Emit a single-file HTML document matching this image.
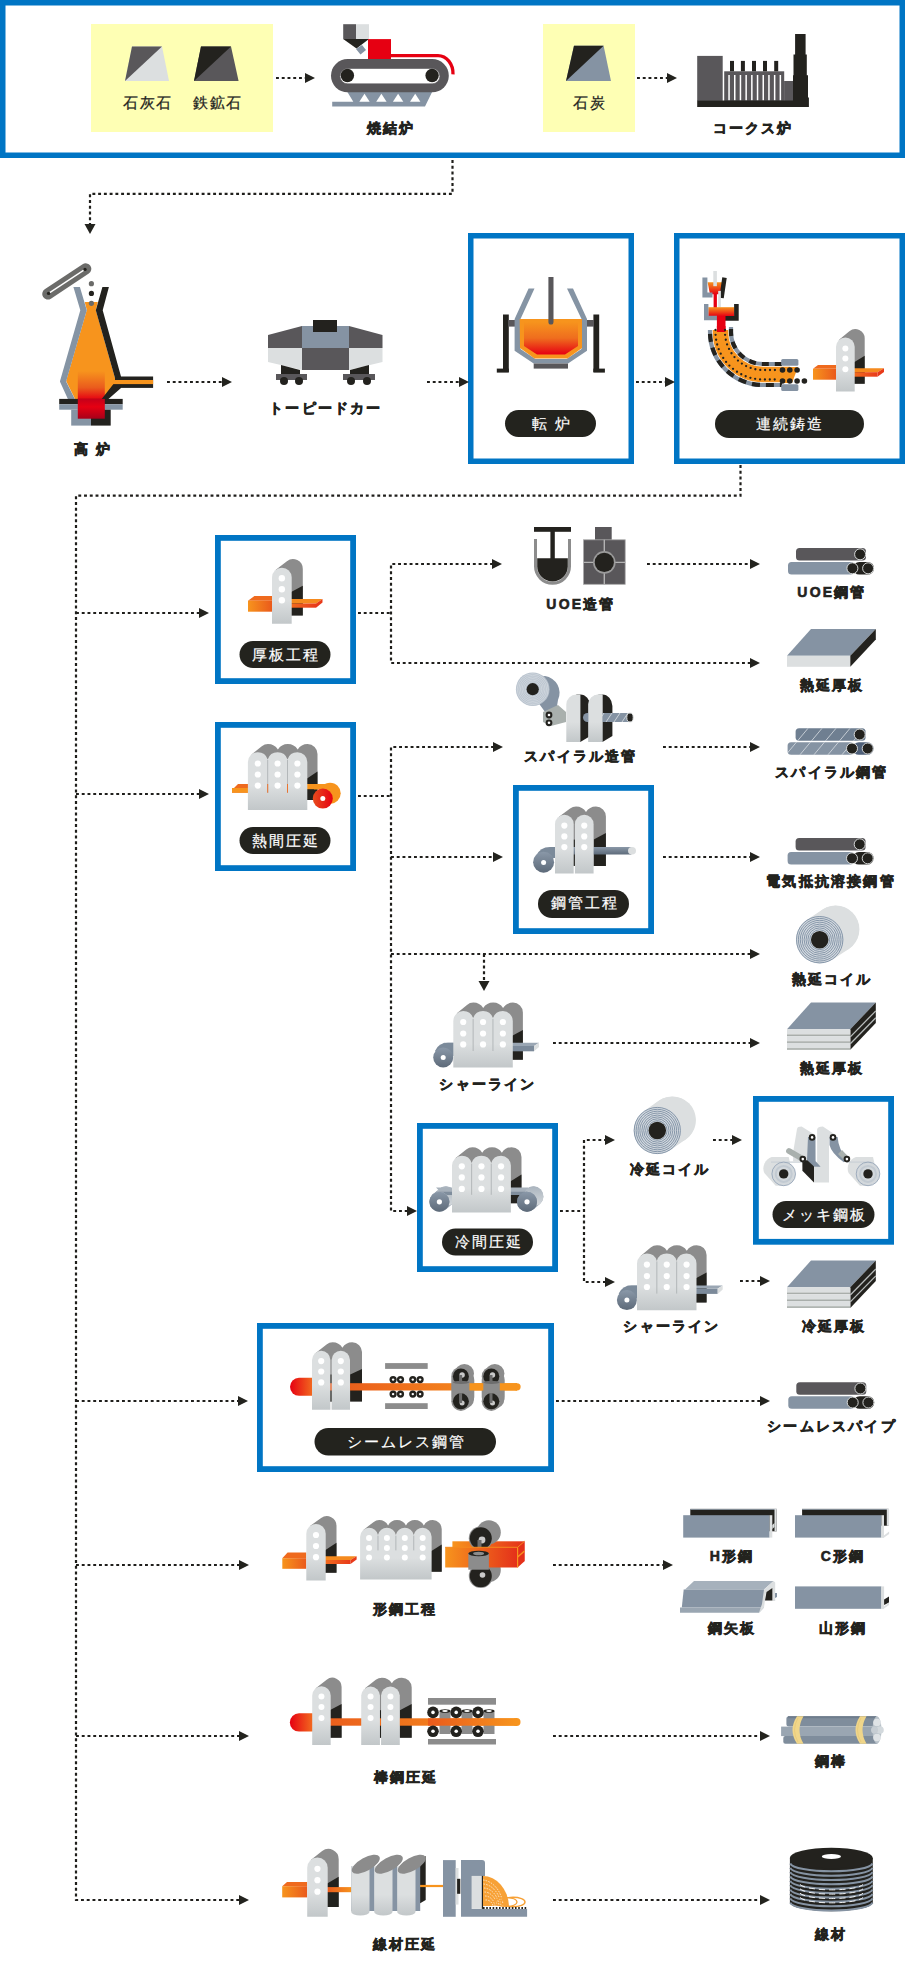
<!DOCTYPE html>
<html lang="ja">
<head>
<meta charset="utf-8">
<title>製鉄プロセス</title>
<style>
html,body{margin:0;padding:0;background:#fff;}
body{width:905px;height:1969px;overflow:hidden;position:relative;font-family:"Liberation Sans",sans-serif;}
svg{position:absolute;left:0;top:0;display:block;}
.lb{font-family:"Liberation Sans",sans-serif;font-size:14px;font-weight:bold;fill:#23231e;letter-spacing:2.2px;stroke:#23231e;stroke-width:0.6px;}
.lr{font-family:"Liberation Sans",sans-serif;font-size:14.5px;font-weight:normal;fill:#23231e;letter-spacing:1.8px;stroke:#23231e;stroke-width:0.25px;}
.pt{font-family:"Liberation Sans",sans-serif;font-size:15px;font-weight:normal;fill:#fff;letter-spacing:2px;stroke:#fff;stroke-width:0.2px;}
.dl{fill:none;stroke:#1f1e1b;stroke-width:2.2;stroke-dasharray:2.9 2.85;}
.bx{fill:none;stroke:#0075c4;stroke-width:5;}
</style>
</head>
<body>
<svg width="905" height="1969" viewBox="0 0 905 1969">
<defs>
  <polygon id="ar" points="0,-5 10,0 0,5" fill="#23231e"/>
  <polygon id="ad" points="-5.5,0 5.5,0 0,10" fill="#23231e"/>
</defs>

<!-- ===== blue boxes ===== -->
<rect x="2.75" y="2.75" width="899.50" height="152.50" fill="none" stroke="#0075c4" stroke-width="5.5"/>
<rect x="470.75" y="235.75" width="160.50" height="225.50" fill="none" stroke="#0075c4" stroke-width="5.5"/>
<rect x="676.75" y="235.75" width="225.50" height="225.50" fill="none" stroke="#0075c4" stroke-width="5.5"/>
<rect x="217.90" y="537.90" width="135.20" height="143.20" fill="none" stroke="#0075c4" stroke-width="5.8"/>
<rect x="217.90" y="724.90" width="135.20" height="143.20" fill="none" stroke="#0075c4" stroke-width="5.8"/>
<rect x="515.90" y="787.90" width="135.20" height="143.20" fill="none" stroke="#0075c4" stroke-width="5.8"/>
<rect x="419.90" y="1125.90" width="135.20" height="143.20" fill="none" stroke="#0075c4" stroke-width="5.8"/>
<rect x="755.90" y="1098.90" width="135.20" height="142.90" fill="none" stroke="#0075c4" stroke-width="5.8"/>
<rect x="259.90" y="1325.90" width="291.20" height="143.20" fill="none" stroke="#0075c4" stroke-width="5.8"/>

<!-- yellow raw material panels -->
<rect x="91" y="24" width="182" height="108" fill="#feffb4"/>
<rect x="543" y="24" width="92" height="108" fill="#feffb4"/>

<!-- ===== dotted connectors ===== -->
<g id="connectors">
<path class="dl" d="M276,78H306"/><use href="#ar" x="305" y="78"/>
<path class="dl" d="M637,78H668"/><use href="#ar" x="667" y="78"/>
<path class="dl" d="M452.5,160V193.8H90V224"/><use href="#ad" x="90" y="224"/>
<path class="dl" d="M167,382H224"/><use href="#ar" x="222" y="382"/>
<path class="dl" d="M427,382H460"/><use href="#ar" x="459" y="382"/>
<path class="dl" d="M636,382H666"/><use href="#ar" x="665" y="382"/>
<path class="dl" d="M740.5,465V495.7H76V1900H240"/>
<path class="dl" d="M76,613H200"/><use href="#ar" x="199" y="613"/>
<path class="dl" d="M76,794H200"/><use href="#ar" x="199" y="794"/>
<path class="dl" d="M76,1401H240"/><use href="#ar" x="238" y="1401"/>
<path class="dl" d="M76,1565H240"/><use href="#ar" x="239" y="1565"/>
<path class="dl" d="M76,1736H240"/><use href="#ar" x="239" y="1736"/>
<use href="#ar" x="239" y="1900"/>
<!-- plate branch -->
<path class="dl" d="M358,613H391"/>
<path class="dl" d="M493,564H391V663H752"/><use href="#ar" x="492" y="564"/><use href="#ar" x="750" y="663"/>
<path class="dl" d="M647,564H752"/><use href="#ar" x="750" y="564"/>
<!-- hot rolling branch -->
<path class="dl" d="M358,796H391"/>
<path class="dl" d="M494,747H391V1211H409"/><use href="#ar" x="493" y="747"/><use href="#ar" x="407" y="1211"/>
<path class="dl" d="M391,857H494"/><use href="#ar" x="493" y="857"/>
<path class="dl" d="M391,954H752"/><use href="#ar" x="750" y="954"/>
<path class="dl" d="M484,954V983"/><use href="#ad" x="484" y="981"/>
<path class="dl" d="M663,747H752"/><use href="#ar" x="750" y="747"/>
<path class="dl" d="M663,857H752"/><use href="#ar" x="750" y="857"/>
<path class="dl" d="M553,1043H752"/><use href="#ar" x="750" y="1043"/>
<!-- cold rolling branch -->
<path class="dl" d="M560,1211H584"/>
<path class="dl" d="M607,1140H584V1282H607"/><use href="#ar" x="605" y="1140"/><use href="#ar" x="605" y="1282"/>
<path class="dl" d="M713,1140H734"/><use href="#ar" x="732" y="1140"/>
<path class="dl" d="M740,1281H762"/><use href="#ar" x="760" y="1281"/>
<!-- bottom processes -->
<path class="dl" d="M556,1401H762"/><use href="#ar" x="760" y="1401"/>
<path class="dl" d="M553,1565H665"/><use href="#ar" x="663" y="1565"/>
<path class="dl" d="M553,1736H762"/><use href="#ar" x="760" y="1736"/>
<path class="dl" d="M553,1900H762"/><use href="#ar" x="760" y="1900"/>
</g>

<!-- ===== pills ===== -->
<g fill="#23231e">
<rect x="505" y="410" width="91" height="27" rx="13.5"/>
<rect x="715" y="410" width="149" height="28" rx="14"/>
<rect x="239.5" y="641" width="91" height="27" rx="13.5"/>
<rect x="239.5" y="827" width="91" height="27" rx="13.5"/>
<rect x="538" y="890" width="91" height="28" rx="14"/>
<rect x="442" y="1228.5" width="91" height="27" rx="13.5"/>
<rect x="772.5" y="1201" width="102" height="27" rx="13.5"/>
<rect x="314.5" y="1428" width="181.5" height="27.5" rx="13.75"/>
</g>
<g text-anchor="middle" transform="translate(1,-0.5)">
<text class="pt" x="551" y="429">転 炉</text>
<text class="pt" x="789" y="429.5">連続鋳造</text>
<text class="pt" x="285" y="660">厚板工程</text>
<text class="pt" x="285" y="846">熱間圧延</text>
<text class="pt" x="583.5" y="908">鋼管工程</text>
<text class="pt" x="487.5" y="1247.6">冷間圧延</text>
<text class="pt" x="823.5" y="1220">メッキ鋼板</text>
<text class="pt" x="405" y="1447">シームレス鋼管</text>
</g>

<!-- ===== labels ===== -->
<g text-anchor="middle" transform="translate(1,0)">
<text class="lr" x="147" y="108">石灰石</text>
<text class="lr" x="217" y="108">鉄鉱石</text>
<text class="lr" x="589" y="108">石炭</text>
<text class="lb" x="390" y="133">焼結炉</text>
<text class="lb" x="752" y="133">コークス炉</text>
<text class="lb" x="92" y="454">高 炉</text>
<text class="lb" x="325" y="413">トーピードカー</text>
<text class="lb" x="580" y="609">UOE造管</text>
<text class="lb" x="831" y="597">UOE鋼管</text>
<text class="lb" x="831" y="690">熱延厚板</text>
<text class="lb" x="580" y="761">スパイラル造管</text>
<text class="lb" x="831" y="777">スパイラル鋼管</text>
<text class="lb" x="830" y="886">電気抵抗溶接鋼管</text>
<text class="lb" x="831" y="984">熱延コイル</text>
<text class="lb" x="487" y="1089">シャーライン</text>
<text class="lb" x="831" y="1073">熱延厚板</text>
<text class="lb" x="669" y="1174">冷延コイル</text>
<text class="lb" x="671" y="1331">シャーライン</text>
<text class="lb" x="833" y="1331">冷延厚板</text>
<text class="lb" x="831" y="1431">シームレスパイプ</text>
<text class="lb" x="404" y="1614">形鋼工程</text>
<text class="lb" x="731" y="1561">H形鋼</text>
<text class="lb" x="842" y="1561">C形鋼</text>
<text class="lb" x="731" y="1633">鋼矢板</text>
<text class="lb" x="842" y="1633">山形鋼</text>
<text class="lb" x="405" y="1782">棒鋼圧延</text>
<text class="lb" x="830" y="1766">鋼棒</text>
<text class="lb" x="404" y="1949">線材圧延</text>
<text class="lb" x="830" y="1939">線材</text>
</g>


<!-- ===== ICONS: top row ===== -->
<g id="raw">
  <polygon points="132,46.5 162,46.5 169,81 125,81" fill="#dcdfe0"/>
  <polygon points="132,46.5 162,46.5 125,81" fill="#59575a"/>
  <polygon points="201,46.5 231,46.5 238.6,81 194,81" fill="#59575a"/>
  <polygon points="201,46.5 231,46.5 194,81" fill="#23221e"/>
  <polygon points="574,45.8 603.6,45.8 611,81 566,81" fill="#8593a3"/>
  <polygon points="574,45.8 603.6,45.8 566,81" fill="#23221e"/>
</g>
<g id="sinter">
  <rect x="343.2" y="24.2" width="12.8" height="14.9" fill="#59575a"/>
  <rect x="356" y="24.2" width="13" height="14.9" fill="#dcdfe0"/>
  <polygon points="343.2,39.1 369,39.1 356.5,48.5" fill="#23221e"/>
  <polygon points="356,49 362,45 366,50 360.5,54.6" fill="#8593a3"/>
  <rect x="368" y="39.1" width="23" height="20.4" fill="#e60012"/>
  <path d="M390,55.6H438A15,18 0 0 1 453,74.4" fill="none" stroke="#e60012" stroke-width="3.3"/>
  <polygon points="347.4,92 432.1,92 425,106.5 332.2,106.5 332.2,101.7 353.3,101.7" fill="#8593a3"/>
  <g fill="#fff"><polygon points="359.3,101.7 364.5,93.8 369.7,101.7"/><polygon points="376.2,101.7 381.4,93.8 386.6,101.7"/><polygon points="392.9,101.7 398.1,93.8 403.3,101.7"/><polygon points="410,101.7 415.2,93.8 420.4,101.7"/></g>
  <rect x="331" y="59.1" width="117.8" height="33.2" rx="16.6" fill="#59575a"/>
  <rect x="340" y="68.5" width="99.9" height="15.3" rx="7.65" fill="#fff" stroke="#59575a" stroke-width="0.6"/>
  <circle cx="347.4" cy="75.5" r="6.7" fill="#23221e"/>
  <circle cx="432.1" cy="75.5" r="6.7" fill="#23221e"/>
</g>
<g id="coke">
  <rect x="697.2" y="55.9" width="25.5" height="45" fill="#59575a"/>
  <rect x="724.2" y="71.3" width="60" height="30" fill="#59575a"/>
  <g fill="#fff"><rect x="728.3" y="75" width="1.5" height="25.4"/><rect x="734" y="75" width="1.5" height="25.4"/><rect x="739.7" y="75" width="1.5" height="25.4"/><rect x="745.4" y="75" width="1.5" height="25.4"/><rect x="751.1" y="75" width="1.5" height="25.4"/><rect x="756.8" y="75" width="1.5" height="25.4"/><rect x="762.5" y="75" width="1.5" height="25.4"/><rect x="768.2" y="75" width="1.5" height="25.4"/><rect x="773.9" y="75" width="1.5" height="25.4"/><rect x="779.6" y="75" width="1.5" height="25.4"/></g>
  <g fill="#23221e"><rect x="730" y="60.9" width="4" height="10.4"/><rect x="740.9" y="60.9" width="4" height="10.4"/><rect x="752" y="60.9" width="4" height="10.4"/><rect x="763" y="60.9" width="4" height="10.4"/><rect x="774.2" y="60.9" width="4" height="10.4"/></g>
  <rect x="784.1" y="81" width="9.3" height="20" fill="#59575a"/>
  <polygon points="795.1,33.9 805.6,33.9 805.6,54.4 806.8,54.4 806.8,75.3 808,75.3 808,97.5 808.9,97.5 808.9,106.9 697.2,106.9 697.2,100.4 793,100.4 793,75.3 793.5,75.3 793.5,54.4 795.1,54.4" fill="#23221e"/>
</g>

<!-- ===== blast furnace ===== -->
<defs>
  <linearGradient id="bfred" x1="0" y1="0" x2="0" y2="1">
    <stop offset="0" stop-color="#f7941d"/>
    <stop offset="0.35" stop-color="#ea5b1d"/>
    <stop offset="0.6" stop-color="#e60012"/>
    <stop offset="1" stop-color="#a8001a"/>
  </linearGradient>
</defs>
<g id="bf">
  <line x1="47.8" y1="294" x2="85.7" y2="268.9" stroke="#6b6b69" stroke-width="11.2" stroke-linecap="round"/>
  <line x1="48.6" y1="293.4" x2="85" y2="269.4" stroke="#fff" stroke-width="1.4"/>
  <circle cx="48.6" cy="293.4" r="1.7" fill="#23221e"/><circle cx="85" cy="269.4" r="1.7" fill="#23221e"/>
  <polygon points="84.7,302 97.8,302 95.8,310 115.8,381 107.5,399 75,399 66.1,381 86.8,310" fill="#f7941d"/>
  <rect x="77.8" y="371" width="27" height="47.7" fill="url(#bfred)"/>
  <circle cx="91.4" cy="283.7" r="2.6" fill="#6b6b69"/>
  <circle cx="91.4" cy="293.4" r="2.6" fill="#23221e"/>
  <circle cx="91.4" cy="303.3" r="2.6" fill="#6b6b69"/>

  <polygon points="73.4,287 79.9,287 86.8,310.2 66.1,381.4 75,399.3 68,399.3 59.9,381.4 80.3,310.2" fill="#8594a4"/>
  <polygon points="102.4,287 108.9,287 102.7,310.2 121,376.5 121,388 108.2,399.3 101.5,399.3 115.8,381 95.8,310.2" fill="#23221e"/>
  <rect x="115" y="376.5" width="38.1" height="11.4" fill="#23221e"/>
  <rect x="112" y="380" width="41.1" height="4.1" fill="#f7941d"/>
  <rect x="59.2" y="398.9" width="63.5" height="5.3" fill="#23221e"/>
  <rect x="59.2" y="404.2" width="63.5" height="5.5" fill="#8594a4"/>
  <rect x="71.2" y="409.7" width="19.8" height="15.9" fill="#8594a4"/>
  <rect x="91" y="409.7" width="19.7" height="15.9" fill="#23221e"/>
  <rect x="77.8" y="398.9" width="27" height="19.8" fill="url(#bfred2)"/>
</g>
<defs>
  <linearGradient id="bfred2" x1="0" y1="0" x2="0" y2="1">
    <stop offset="0" stop-color="#c4001a"/>
    <stop offset="0.4" stop-color="#e60012"/>
    <stop offset="1" stop-color="#a8001a"/>
  </linearGradient>
</defs>

<!-- ===== torpedo car ===== -->
<g id="torpedo">
    <polygon points="268,335 302,326 302,348 268,348" fill="#59575a"/>
  <polygon points="302,326 349,326 349,348 302,348" fill="#8593a3"/>
  <polygon points="349,326 382.5,335 382.5,348 349,348" fill="#59575a"/>
  <polygon points="268,348 302,348 302,370 268,362" fill="#dcdfe0"/>
  <polygon points="302,348 349,348 349,370 302,370" fill="#59575a"/>
  <polygon points="349,348 382.5,348 382.5,362 349,370" fill="#dcdfe0"/>
  <rect x="313" y="320" width="24" height="12" fill="#23221e"/>
  <polygon points="281,365 300,370 300,374 281,374" fill="#23221e"/>
  <polygon points="350,370 369,365 369,374 350,374" fill="#23221e"/>
  <rect x="276" y="374" width="31" height="6" fill="#59575a"/>
  <rect x="343" y="374" width="32" height="6" fill="#59575a"/>
  <g fill="#23221e"><circle cx="284" cy="381" r="4"/><circle cx="299" cy="381" r="4"/><circle cx="351" cy="381" r="4"/><circle cx="367" cy="381" r="4"/></g>
</g>

<!-- ===== converter ===== -->
<defs>
  <linearGradient id="cvg" x1="0" y1="0" x2="0" y2="1">
    <stop offset="0" stop-color="#f7941d"/>
    <stop offset="0.5" stop-color="#ef6d1e"/>
    <stop offset="1" stop-color="#e60012"/>
  </linearGradient>
</defs>
<g id="converter">
  <rect x="503" y="314.5" width="5.8" height="57.5" fill="#23221e"/>
  <rect x="496.8" y="368.6" width="12" height="4" fill="#23221e"/>
  <rect x="593.4" y="314.5" width="5.8" height="57.5" fill="#23221e"/>
  <rect x="593.4" y="368.6" width="11.5" height="4" fill="#23221e"/>
  <rect x="508" y="320" width="8" height="6.6" fill="#59575a"/>
  <rect x="586" y="320" width="8" height="6.6" fill="#59575a"/>
  <polygon points="528.6,288.5 534.5,288.5 520.5,319 520.5,349 535.5,359 566.5,359 581.5,349 581.5,319 567,288.5 573,288.5 587,319 587,350.8 568,363.5 533.7,363.5 514.6,350.8 514.6,319" fill="#8594a4"/>
  <polygon points="519.7,319 582,319 582,348 567.5,358.4 534.5,358.4 520,348" fill="#f7941d"/>
  <polygon points="524,322 578,322 578,346 565,354.4 537,354.4 524,346" fill="url(#cvg)"/>
  <rect x="533.7" y="363.5" width="34.3" height="5.1" fill="#59575a"/>
  <path d="M548.4,277H553.5V322A2.55,2.55 0 0 1 548.4,322Z" fill="#59575a"/>
</g>


<defs>
<linearGradient id="stf" x1="0" y1="0" x2="0" y2="1"><stop offset="0" stop-color="#dcdfe0"/><stop offset="0.58" stop-color="#dcdfe0"/><stop offset="1" stop-color="#c2c7c9"/></linearGradient>
<linearGradient id="orh" x1="0" y1="0" x2="1" y2="0"><stop offset="0" stop-color="#f7941d"/><stop offset="1" stop-color="#ea5a1c"/></linearGradient>
<linearGradient id="orh2" x1="0" y1="0" x2="1" y2="0"><stop offset="0" stop-color="#f26c1f"/><stop offset="1" stop-color="#e83a1a"/></linearGradient>
<linearGradient id="bgv" x1="0" y1="0" x2="0" y2="1"><stop offset="0" stop-color="#8a98a8"/><stop offset="1" stop-color="#5d6a79"/></linearGradient>
<linearGradient id="bgv2" x1="0" y1="0" x2="0" y2="1"><stop offset="0" stop-color="#aab4be"/><stop offset="1" stop-color="#d6dadd"/></linearGradient>
<linearGradient id="redr" x1="0" y1="0" x2="1" y2="0"><stop offset="0" stop-color="#e84c1d"/><stop offset="1" stop-color="#e60012"/></linearGradient>
<linearGradient id="orh2r" x1="0" y1="0" x2="1" y2="0"><stop offset="0" stop-color="#ea5a1c"/><stop offset="1" stop-color="#f7941d"/></linearGradient>
<linearGradient id="orr" x1="0" y1="0" x2="1" y2="0"><stop offset="0" stop-color="#f7941d"/><stop offset="1" stop-color="#e4301a"/></linearGradient>
<linearGradient id="billet" x1="0" y1="0" x2="1" y2="0"><stop offset="0" stop-color="#e60012"/><stop offset="1" stop-color="#f26c1f"/></linearGradient>
<linearGradient id="ccg" x1="0" y1="0" x2="0" y2="1"><stop offset="0" stop-color="#f7941d"/><stop offset="1" stop-color="#e60012"/></linearGradient>
</defs>

<g id="cc"><polygon points="707.6,282.2 722.5,282.2 720,294.2 710,294.2" fill="url(#ccg)"/><polyline points="704.9,277.6 704.9,295 712.5,295" fill="none" stroke="#8593a3" stroke-width="5"/><polyline points="724.5,277.6 721.5,298" fill="none" stroke="#23221e" stroke-width="4.5"/><rect x="713.3" y="271" width="3.6" height="15.2" fill="#dcdfe0"/><rect x="713.6" y="294" width="3.3" height="14" fill="#e60012"/><rect x="718.2" y="290.9" width="2.7" height="16.5" fill="#dcdfe0"/><rect x="708.3" y="307.2" width="26" height="9" fill="url(#ccg)"/><polyline points="706.2,304 706.2,318 717,318" fill="none" stroke="#8593a3" stroke-width="4.4"/><polyline points="736.4,304 736.4,318.4 724.8,318.4" fill="none" stroke="#23221e" stroke-width="4.6"/><rect x="716.9" y="316" width="8.6" height="15" fill="#e60012"/><path d="M720.5,330V332A42.5,42.5 0 0 0 763,374.5H790" fill="none" stroke="#f7941d" stroke-width="15.5"/><polygon points="781,367 798,367 792,383 781,383" fill="#f7941d"/><rect x="716.9" y="326" width="8.6" height="6" fill="#e60012"/><path d="M710,330V332A53,53 0 0 0 763,385H782" fill="none" stroke="#8593a3" stroke-width="4.2"/><path d="M710,330V332A53,53 0 0 0 763,385H782" fill="none" stroke="#23221e" stroke-width="4.2" stroke-dasharray="8 6" stroke-dashoffset="-4"/><path d="M731,327V332A32,32 0 0 0 763,364H782" fill="none" stroke="#8593a3" stroke-width="4.2"/><path d="M731,327V332A32,32 0 0 0 763,364H782" fill="none" stroke="#23221e" stroke-width="4.2" stroke-dasharray="7 6" stroke-dashoffset="-2"/><rect x="781.2" y="359.1" width="17.2" height="6.7" rx="1.5" fill="#8593a3"/><rect x="781.2" y="384.3" width="17.2" height="6.7" rx="1.5" fill="#8593a3"/><path d="M725,330V332A38,38 0 0 0 763,370H778" fill="none" stroke="#23221e" stroke-width="2.3" stroke-linecap="round" stroke-dasharray="0 4.9"/><path d="M715.5,330V332A47.5,47.5 0 0 0 763,379.5H778" fill="none" stroke="#23221e" stroke-width="2.3" stroke-linecap="round" stroke-dasharray="0 4.9"/><circle cx="782.5" cy="370" r="2.8" fill="#23221e"/><circle cx="782.5" cy="381" r="2.8" fill="#23221e"/><circle cx="789.8" cy="370" r="2.8" fill="#23221e"/><circle cx="789.8" cy="381" r="2.8" fill="#23221e"/><circle cx="797.1" cy="370" r="2.8" fill="#23221e"/><circle cx="797.1" cy="381" r="2.8" fill="#23221e"/><circle cx="804.4" cy="381" r="2.8" fill="#23221e"/><path d="M839.34,339.59L849.34,331.19A9.35,9.35 0 0 1 864.70,338.35V383.70H845.35Z" fill="#8c8c8c"/><polygon points="853.70,362.40 864.70,355.80 864.70,383.70 853.70,383.70" fill="#23221e"/><polygon points="813,368.8 818,365 836,365 836,368.8" fill="#ef6a1e"/><rect x="813" y="368.8" width="23" height="10.9" fill="url(#orh)"/><polygon points="854,368.3 884,368.3 877.5,372.2 854,372.2" fill="#f58a1e"/><rect x="854" y="372.2" width="23.5" height="4.5" fill="url(#orh2)"/><polygon points="877.5,372.2 884,368.3 884,372 877.5,376.7" fill="#e83a1a"/><path d="M836.00,391.60V346.75A9.35,9.35 0 0 1 854.70,346.75V391.60Z" fill="url(#stf)"/><circle cx="845.35" cy="348.40" r="3" fill="#fff"/><circle cx="845.35" cy="358.60" r="3" fill="#fff"/><circle cx="845.35" cy="369.30" r="3" fill="#fff"/></g>
<g id="platemill"><path d="M275.82,569.76L286.92,561.16A9.85,9.85 0 0 1 302.80,568.95V615.60H281.85Z" fill="#8c8c8c"/><polygon points="290.70,592.30 302.80,585.80 302.80,615.60 290.70,615.60" fill="#23221e"/><polygon points="248,600.7 254.4,596 272,596 272,600.7" fill="#ef6a1e"/><rect x="248" y="600.7" width="24" height="11" fill="url(#orh)"/><polygon points="291,599 322.5,599 316,603.5 291,603.5" fill="#f58a1e"/><rect x="291" y="603.5" width="25" height="4.2" fill="url(#orh2)"/><polygon points="316,603.5 322.5,599 322.5,602.5 316,607.7" fill="#e83a1a"/><path d="M272.00,623.80V577.55A9.85,9.85 0 0 1 291.70,577.55V623.80Z" fill="url(#stf)"/><circle cx="281.85" cy="578.30" r="3.2" fill="#fff"/><circle cx="281.85" cy="589.30" r="3.2" fill="#fff"/><circle cx="281.85" cy="600.20" r="3.2" fill="#fff"/></g>
<g id="uoe"><path d="M535.5,538.9V566.3A17,17 0 0 0 569.5,566.3V538.9" fill="none" stroke="#8c8c8c" stroke-width="3"/><path d="M537.2,558.3H567.8V566.3A15.3,15.3 0 0 1 537.2,566.3Z" fill="#23221e"/><rect x="534" y="527" width="37" height="4.8" fill="#23221e"/><rect x="550.4" y="531" width="4.4" height="28" fill="#23221e"/><rect x="595" y="527" width="16.7" height="13" fill="#59575a"/><rect x="583.5" y="539.8" width="41.7" height="44.5" fill="#59575a" stroke="#aaa" stroke-width="0.8"/><line x1="604.3" y1="539.8" x2="604.3" y2="584.3" stroke="#b3b3b3" stroke-width="1.4"/><line x1="583.5" y1="562.4" x2="625.2" y2="562.4" stroke="#b3b3b3" stroke-width="1.4"/><circle cx="604.3" cy="562.4" r="11.3" fill="#9a9a9a"/><circle cx="604.3" cy="562.4" r="9.6" fill="#23221e"/></g>
<g><rect x="796" y="548" width="70" height="12.6" rx="3.5" fill="#59575a"/><rect x="788" y="562" width="66" height="12.6" rx="3.5" fill="#8593a3"/><rect x="853" y="562" width="21" height="12.6" rx="6.3" fill="#23221e"/><circle cx="860.1" cy="554.3" r="5.5" fill="#23221e" stroke="#e4e6e6" stroke-width="0.9"/><circle cx="852.4" cy="568.3" r="5.5" fill="#23221e" stroke="#e4e6e6" stroke-width="0.9"/><circle cx="868.1" cy="568.3" r="5.5" fill="#23221e" stroke="#e4e6e6" stroke-width="0.9"/></g>
<g><polygon points="787,655.8 811,629.0 875.8,629.0 850.3,655.8" fill="#8593a3"/><rect x="787" y="655.8" width="63.3" height="11" fill="#dcdfe0"/><polygon points="850.3,655.8 875.8,629.0 875.8,639.4 850.3,666.8" fill="#23221e"/></g>
<g id="hotroll"><path d="M251.60,754.38L261.80,746.18A9.90,9.90 0 0 1 268.00,744.00A11.66,11.66 0 0 1 277.90,749.50A11.66,11.66 0 0 1 287.80,744.00A11.66,11.66 0 0 1 297.70,749.50A11.66,11.66 0 0 1 307.60,744.00A9.90,9.90 0 0 1 317.50,753.90V800.00H257.80Z" fill="#8c8c8c"/><polygon points="306.30,779.00 317.50,771.50 317.50,800.00 306.30,800.00" fill="#23221e"/><polygon points="232,790 238,784 248,784 248,792.7 232,792.7" fill="#ee6a1f"/><rect x="232" y="788" width="16" height="4.7" fill="#f7941d"/><circle cx="330.1" cy="793.3" r="10.6" fill="#f7941d"/><rect x="306" y="784" width="24" height="5.5" fill="#f7941d"/><rect x="306" y="789.4" width="8" height="10.6" fill="#23221e"/><circle cx="322.8" cy="798.6" r="10" fill="url(#redr)"/><circle cx="322.8" cy="798.6" r="2.5" fill="#fff"/><path d="M247.90,809.90V762.10A9.90,9.90 0 0 1 257.80,752.20A10.36,10.36 0 0 1 267.70,759.50A10.36,10.36 0 0 1 277.60,752.20A10.36,10.36 0 0 1 287.50,759.50A10.36,10.36 0 0 1 297.40,752.20A9.90,9.90 0 0 1 307.30,762.10V809.90Z" fill="url(#stf)"/><line x1="267.70" y1="760.00" x2="267.70" y2="793.00" stroke="#aeb2b4" stroke-width="0.9"/><line x1="287.50" y1="760.00" x2="287.50" y2="793.00" stroke="#aeb2b4" stroke-width="0.9"/><circle cx="257.80" cy="763.50" r="3.1" fill="#fff"/><circle cx="257.80" cy="774.50" r="3.1" fill="#fff"/><circle cx="257.80" cy="785.60" r="3.1" fill="#fff"/><circle cx="277.60" cy="763.50" r="3.1" fill="#fff"/><circle cx="277.60" cy="774.50" r="3.1" fill="#fff"/><circle cx="277.60" cy="785.60" r="3.1" fill="#fff"/><circle cx="297.40" cy="763.50" r="3.1" fill="#fff"/><circle cx="297.40" cy="774.50" r="3.1" fill="#fff"/><circle cx="297.40" cy="785.60" r="3.1" fill="#fff"/><line x1="267.7" y1="784" x2="267.7" y2="792.7" stroke="#f26c1f" stroke-width="0.9"/><line x1="287.5" y1="784" x2="287.5" y2="792.7" stroke="#f26c1f" stroke-width="0.9"/></g>
<g id="spiral"><path d="M520,680 L545,676 A17,17 0 0 1 558,700 L556,712 L548,716 L540,705 Z" fill="#8593a3"/><polygon points="543,712 558,705 566,712 566,722 551,726 543,722" fill="#a9b0ad"/><circle cx="532.7" cy="689.2" r="16.8" fill="#b9c3ce"/><circle cx="532.7" cy="689.2" r="15.5" fill="none" stroke="#e3e7eb" stroke-width="0.5"/><circle cx="532.7" cy="689.2" r="13.9" fill="none" stroke="#e3e7eb" stroke-width="0.5"/><circle cx="532.7" cy="689.2" r="12.3" fill="none" stroke="#e3e7eb" stroke-width="0.5"/><circle cx="532.7" cy="689.2" r="10.7" fill="none" stroke="#e3e7eb" stroke-width="0.5"/><circle cx="532.7" cy="689.2" r="9.1" fill="none" stroke="#e3e7eb" stroke-width="0.5"/><circle cx="532.7" cy="689.2" r="7.5" fill="none" stroke="#e3e7eb" stroke-width="0.5"/><circle cx="532.7" cy="689.2" r="6.1" fill="#23221e"/><circle cx="549" cy="715" r="3.4" fill="#23221e"/><circle cx="549" cy="715" r="1.3" fill="#fff"/><circle cx="549" cy="722.8" r="3.4" fill="#23221e"/><circle cx="549" cy="722.8" r="1.3" fill="#fff"/><path d="M576.3,694.5H580.3 A10,12 0 0 1 590.3,706 V736 L580.3,742 H576.3Z" fill="#23221e"/><path d="M566.3,742V704.5A10,10 0 0 1 576.3,694.5H580.3A10,10 0 0 0 580.4,694.5V742Z" fill="url(#stf)"/><path d="M598.4,694.5H602.4 A10,12 0 0 1 612.4,706 V736 L602.4,742 H598.4Z" fill="#23221e"/><path d="M588.4,742V704.5A10,10 0 0 1 598.4,694.5H602.4A10,10 0 0 0 602.5,694.5V742Z" fill="url(#stf)"/><rect x="583" y="713" width="49" height="9" rx="4.5" fill="#8593a3"/><clipPath id="sppc"><rect x="583" y="713" width="47" height="9"/></clipPath><g clip-path="url(#sppc)" stroke="#dde2e6" stroke-width="0.8"><line x1="590" y1="722" x2="596" y2="713"/><line x1="598" y1="722" x2="604" y2="713"/><line x1="606" y1="722" x2="612" y2="713"/><line x1="614" y1="722" x2="620" y2="713"/><line x1="622" y1="722" x2="628" y2="713"/></g><ellipse cx="630" cy="717.5" rx="3.2" ry="4.5" fill="#23221e" stroke="#dcdfe0" stroke-width="1"/><path d="M588.4,742V704.5A10,10 0 0 1 598.4,694.5H602.4V742Z" fill="url(#stf)"/></g>
<g><rect x="795.6" y="728.2" width="70" height="12.6" rx="3.5" fill="#6f7f91"/><rect x="787.6" y="742.2" width="66" height="12.6" rx="3.5" fill="#8593a3"/><clipPath id="spc728"><rect x="795.6" y="728.2" width="62" height="12.6" rx="3.5"/><rect x="787.6" y="742.2" width="62" height="12.6" rx="3.5"/></clipPath><g clip-path="url(#spc728)" stroke="#d9dee3" stroke-width="0.8"><line x1="785.6" y1="755.2" x2="808.1" y2="728.2"/><line x1="799.6" y1="755.2" x2="822.1" y2="728.2"/><line x1="813.6" y1="755.2" x2="836.1" y2="728.2"/><line x1="827.6" y1="755.2" x2="850.1" y2="728.2"/><line x1="841.6" y1="755.2" x2="864.1" y2="728.2"/><line x1="855.6" y1="755.2" x2="878.1" y2="728.2"/><line x1="869.6" y1="755.2" x2="892.1" y2="728.2"/></g><rect x="852.6" y="742.2" width="21" height="12.6" rx="6.3" fill="#4f6079"/><circle cx="859.7" cy="734.5" r="5.5" fill="#23221e" stroke="#e4e6e6" stroke-width="0.9"/><circle cx="852.0" cy="748.5" r="5.5" fill="#23221e" stroke="#e4e6e6" stroke-width="0.9"/><circle cx="867.7" cy="748.5" r="5.5" fill="#23221e" stroke="#e4e6e6" stroke-width="0.9"/></g>
<g id="pipeproc"><path d="M558.99,816.78L570.09,808.48A9.95,9.95 0 0 1 576.05,806.50A11.75,11.75 0 0 1 586.00,812.00A11.75,11.75 0 0 1 595.95,806.50A9.95,9.95 0 0 1 605.90,816.45V865.90H564.95Z" fill="#8c8c8c"/><polygon points="593.80,839.60 605.90,833.00 605.90,865.90 593.80,865.90" fill="#23221e"/><rect x="573.10" y="839.60" width="2.40" height="26.30" fill="#23221e"/><rect x="549.8" y="847" width="82" height="7.6" rx="1" fill="url(#bgv)"/><ellipse cx="632" cy="850.8" rx="4" ry="3.8" fill="#dcdfe0"/><path d="M536,856 Q540,847 550,847 H558 V858 H540Z" fill="#7b8a9a"/><circle cx="543.6" cy="862.2" r="10.5" fill="url(#bgv)"/><circle cx="543.6" cy="862.4" r="2.5" fill="#fff"/><path d="M555.00,873.60V824.15A9.35,9.35 0 0 1 573.70,824.15V873.60Z" fill="url(#stf)"/><path d="M574.90,873.60V824.15A9.35,9.35 0 0 1 593.60,824.15V873.60Z" fill="url(#stf)"/><circle cx="564.35" cy="825.60" r="3.1" fill="#fff"/><circle cx="564.35" cy="836.40" r="3.1" fill="#fff"/><circle cx="564.35" cy="847.10" r="3.1" fill="#fff"/><circle cx="584.25" cy="825.60" r="3.1" fill="#fff"/><circle cx="584.25" cy="836.40" r="3.1" fill="#fff"/><circle cx="584.25" cy="847.10" r="3.1" fill="#fff"/></g>
<g><rect x="795.6" y="838" width="70" height="12.6" rx="3.5" fill="#59575a"/><rect x="787.6" y="852" width="66" height="12.6" rx="3.5" fill="#8593a3"/><rect x="852.6" y="852" width="21" height="12.6" rx="6.3" fill="#23221e"/><circle cx="859.7" cy="844.3" r="5.5" fill="#23221e" stroke="#e4e6e6" stroke-width="0.9"/><circle cx="852.0" cy="858.3" r="5.5" fill="#23221e" stroke="#e4e6e6" stroke-width="0.9"/><circle cx="867.7" cy="858.3" r="5.5" fill="#23221e" stroke="#e4e6e6" stroke-width="0.9"/></g>
<g><path d="M806.70,919.89L822.70,909.39A23.7,23.7 0 0 1 848.70,949.01L832.70,959.51Z" fill="#dcdfe0"/><circle cx="835.70" cy="929.20" r="23.7" fill="#dcdfe0"/><circle cx="819.7" cy="939.7" r="23.7" fill="#d3d9df"/><circle cx="819.7" cy="939.7" r="23.20" fill="none" stroke="#7d8fa3" stroke-width="0.9"/><circle cx="819.7" cy="939.7" r="21.30" fill="none" stroke="#7d8fa3" stroke-width="0.9"/><circle cx="819.7" cy="939.7" r="19.40" fill="none" stroke="#7d8fa3" stroke-width="0.9"/><circle cx="819.7" cy="939.7" r="17.50" fill="none" stroke="#7d8fa3" stroke-width="0.9"/><circle cx="819.7" cy="939.7" r="15.60" fill="none" stroke="#7d8fa3" stroke-width="0.9"/><circle cx="819.7" cy="939.7" r="13.70" fill="none" stroke="#7d8fa3" stroke-width="0.9"/><circle cx="819.7" cy="939.7" r="11.80" fill="none" stroke="#7d8fa3" stroke-width="0.9"/><circle cx="819.7" cy="939.7" r="9.90" fill="none" stroke="#7d8fa3" stroke-width="0.9"/><circle cx="819.7" cy="939.7" r="8.77" fill="#23221e"/></g>
<g><path d="M456.87,1013.29L466.97,1004.89A9.91,9.91 0 0 1 473.32,1002.60A11.69,11.69 0 0 1 483.23,1008.10A11.69,11.69 0 0 1 493.15,1002.60A11.69,11.69 0 0 1 503.06,1008.10A11.69,11.69 0 0 1 512.98,1002.60A9.91,9.91 0 0 1 522.89,1012.51V1059.80H463.22Z" fill="#8c8c8c"/><polygon points="511.79,1036.00 522.89,1030.00 522.89,1059.80 511.79,1059.80" fill="#23221e"/><polygon points="440,1046 444,1042.8 539,1042.8 534,1046" fill="#9aa6b3"/><rect x="440" y="1046" width="94" height="5.3" fill="#7c8a9a"/><polygon points="534,1046 539,1042.8 539,1047 534,1051.3" fill="#dcdfe0"/><path d="M435,1051 Q438.5,1042.8 448,1042.8 H455 V1056 H440Z" fill="#7b8a9a"/><circle cx="443.2" cy="1057.5" r="10" fill="url(#bgv)"/><circle cx="443.2" cy="1057.5" r="2.5" fill="#fff"/><path d="M453.30,1067.60V1020.91A9.91,9.91 0 0 1 463.22,1011.00A10.38,10.38 0 0 1 473.13,1018.30A10.38,10.38 0 0 1 483.05,1011.00A10.38,10.38 0 0 1 492.96,1018.30A10.38,10.38 0 0 1 502.88,1011.00A9.91,9.91 0 0 1 512.79,1020.91V1067.60Z" fill="url(#stf)"/><line x1="473.13" y1="1018.80" x2="473.13" y2="1051.00" stroke="#aeb2b4" stroke-width="0.9"/><line x1="492.96" y1="1018.80" x2="492.96" y2="1051.00" stroke="#aeb2b4" stroke-width="0.9"/><circle cx="463.22" cy="1022.00" r="3.1" fill="#fff"/><circle cx="463.22" cy="1033.50" r="3.1" fill="#fff"/><circle cx="463.22" cy="1044.40" r="3.1" fill="#fff"/><circle cx="483.05" cy="1022.00" r="3.1" fill="#fff"/><circle cx="483.05" cy="1033.50" r="3.1" fill="#fff"/><circle cx="483.05" cy="1044.40" r="3.1" fill="#fff"/><circle cx="502.88" cy="1022.00" r="3.1" fill="#fff"/><circle cx="502.88" cy="1033.50" r="3.1" fill="#fff"/><circle cx="502.88" cy="1044.40" r="3.1" fill="#fff"/></g>
<g><polygon points="787,1029.2 811,1002.4000000000001 875.8,1002.4000000000001 850.3,1029.2" fill="#8593a3"/><polygon points="850.3,1029.2 875.8,1002.4000000000001 875.8,1023.0000000000001 850.3,1049.8" fill="#23221e"/><rect x="787" y="1029.20" width="63.3" height="5.2" fill="#dcdfe0"/><rect x="787" y="1034.40" width="63.3" height="1.67" fill="#a9aeab"/><rect x="787" y="1036.07" width="63.3" height="5.2" fill="#dcdfe0"/><rect x="787" y="1041.27" width="63.3" height="1.67" fill="#a9aeab"/><line x1="850.3" y1="1036.87" x2="875.8" y2="1010.87" stroke="#b9bdbd" stroke-width="1.3"/><rect x="787" y="1042.94" width="63.3" height="5.2" fill="#dcdfe0"/><rect x="787" y="1048.14" width="63.3" height="1.67" fill="#a9aeab"/><line x1="850.3" y1="1043.74" x2="875.8" y2="1017.74" stroke="#b9bdbd" stroke-width="1.3"/></g>
<g id="coldroll"><path d="M455.63,1157.99L466.23,1149.39A9.81,9.81 0 0 1 472.42,1147.20A11.51,11.51 0 0 1 482.23,1152.70A11.51,11.51 0 0 1 492.05,1147.20A11.51,11.51 0 0 1 501.86,1152.70A11.51,11.51 0 0 1 511.68,1147.20A9.81,9.81 0 0 1 521.49,1157.02V1203.20H461.81Z" fill="#8c8c8c"/><polygon points="509.89,1181.80 521.49,1174.50 521.49,1203.20 509.89,1203.20" fill="#23221e"/><path d="M432.94,1194.17L439.44,1188.67A10,10 0 0 1 452.36,1203.93L445.86,1209.43Z" fill="#a3aeb9"/><circle cx="445.90" cy="1196.30" r="10" fill="url(#bgv2)"/><circle cx="439.4" cy="1201.8" r="10" fill="url(#bgv)"/><circle cx="439.4" cy="1201.8" r="2.6" fill="#fff"/><polygon points="436,1187.4 528,1187.4 533.5,1192.5 441,1192.5" fill="#a7b1bb"/><path d="M520.54,1194.17L527.04,1188.67A10,10 0 0 1 539.96,1203.93L533.46,1209.43Z" fill="#a3aeb9"/><circle cx="533.50" cy="1196.30" r="10" fill="url(#bgv2)"/><circle cx="527" cy="1201.8" r="10" fill="url(#bgv)"/><circle cx="527" cy="1201.8" r="2.6" fill="#fff"/><polygon points="436,1191.8 527,1191.8 527,1195 436,1195" fill="#7f8d9c"/><path d="M429.40,1201.80L429.40,1201.79A10,10 0 0 1 449.40,1201.79L449.40,1201.80Z" fill="#a3aeb9"/><circle cx="439.40" cy="1201.79" r="10" fill="url(#bgv2)"/><circle cx="439.4" cy="1201.8" r="10" fill="url(#bgv)"/><circle cx="439.4" cy="1201.8" r="2.6" fill="#fff"/><circle cx="527" cy="1201.8" r="10" fill="url(#bgv)"/><circle cx="527" cy="1201.8" r="2.6" fill="#fff"/><path d="M452.00,1212.60V1165.62A9.81,9.81 0 0 1 461.81,1155.80A10.25,10.25 0 0 1 471.63,1163.10A10.25,10.25 0 0 1 481.44,1155.80A10.25,10.25 0 0 1 491.26,1163.10A10.25,10.25 0 0 1 501.07,1155.80A9.81,9.81 0 0 1 510.89,1165.62V1212.60Z" fill="url(#stf)"/><line x1="471.63" y1="1163.60" x2="471.63" y2="1194.80" stroke="#aeb2b4" stroke-width="0.9"/><line x1="491.26" y1="1163.60" x2="491.26" y2="1194.80" stroke="#aeb2b4" stroke-width="0.9"/><circle cx="461.81" cy="1166.30" r="3.1" fill="#fff"/><circle cx="461.81" cy="1177.40" r="3.1" fill="#fff"/><circle cx="461.81" cy="1188.90" r="3.1" fill="#fff"/><circle cx="481.44" cy="1166.30" r="3.1" fill="#fff"/><circle cx="481.44" cy="1177.40" r="3.1" fill="#fff"/><circle cx="481.44" cy="1188.90" r="3.1" fill="#fff"/><circle cx="501.07" cy="1166.30" r="3.1" fill="#fff"/><circle cx="501.07" cy="1177.40" r="3.1" fill="#fff"/><circle cx="501.07" cy="1188.90" r="3.1" fill="#fff"/></g>
<g><path d="M643.77,1111.17L658.77,1100.67A23.6,23.6 0 0 1 685.83,1139.33L670.83,1149.83Z" fill="#dcdfe0"/><circle cx="672.30" cy="1120.00" r="23.6" fill="#dcdfe0"/><circle cx="657.3" cy="1130.5" r="23.6" fill="#d3d9df"/><circle cx="657.3" cy="1130.5" r="23.10" fill="none" stroke="#7d8fa3" stroke-width="0.9"/><circle cx="657.3" cy="1130.5" r="21.20" fill="none" stroke="#7d8fa3" stroke-width="0.9"/><circle cx="657.3" cy="1130.5" r="19.30" fill="none" stroke="#7d8fa3" stroke-width="0.9"/><circle cx="657.3" cy="1130.5" r="17.40" fill="none" stroke="#7d8fa3" stroke-width="0.9"/><circle cx="657.3" cy="1130.5" r="15.50" fill="none" stroke="#7d8fa3" stroke-width="0.9"/><circle cx="657.3" cy="1130.5" r="13.60" fill="none" stroke="#7d8fa3" stroke-width="0.9"/><circle cx="657.3" cy="1130.5" r="11.70" fill="none" stroke="#7d8fa3" stroke-width="0.9"/><circle cx="657.3" cy="1130.5" r="9.80" fill="none" stroke="#7d8fa3" stroke-width="0.9"/><circle cx="657.3" cy="1130.5" r="8.73" fill="#23221e"/></g>
<g id="galv"><path d="M764.3000000000001,1173 A12,12 0 0 1 771.7,1157 H788.7 L791.7,1170 L783.7,1185.8 H775.7Z" fill="#dcdfe0"/><path d="M848.6,1173 A12,12 0 0 1 856,1157 H873 L876,1170 L868,1185.8 H860Z" fill="#dcdfe0"/><rect x="771" y="1161.5" width="32" height="1.2" fill="#c9d0d6"/><rect x="847" y="1161.5" width="24" height="1.2" fill="#c9d0d6"/><path d="M797,1129 Q797.5,1126.6 801.6,1126.6 L814.8,1134.7 L815.5,1161 L807,1161.8 L793.1,1161.8 L793.1,1152.5Z" fill="#dcdfe0"/><path d="M817.1,1129.5 Q817.5,1126.6 822.9,1126.6 L835.3,1134.7 L829,1137 L829,1182.6 L814,1182.6 L814,1166.4 L817.1,1166.4Z" fill="#dcdfe0"/><polygon points="808,1137 815.5,1137 815.5,1161 820.6,1166.8 813,1166.8 807,1160" fill="#8593a3"/><polygon points="802.4,1160.2 807.4,1160.2 814,1166.4 814,1182.6 802.4,1170.7" fill="#23221e"/><line x1="789" y1="1151" x2="802.8" y2="1159.1" stroke="#a9b0ad" stroke-width="5.8" stroke-linecap="round"/><path d="M829.5,1137 L837.6,1137 Q838.5,1149 846.9,1160 L843.8,1162.2 Q831.4,1153.3 829.5,1145Z" fill="#8593a3"/><line x1="840" y1="1152" x2="846.9" y2="1159.1" stroke="#a9b0ad" stroke-width="5.5"/><circle cx="802.8" cy="1159.1" r="3.3" fill="#23221e"/><circle cx="802.8" cy="1159.1" r="1.3" fill="#fff"/><circle cx="812.1" cy="1137.4" r="3.3" fill="#23221e"/><circle cx="812.1" cy="1137.4" r="1.3" fill="#fff"/><circle cx="833" cy="1137.4" r="3.3" fill="#23221e"/><circle cx="833" cy="1137.4" r="1.3" fill="#fff"/><circle cx="846.9" cy="1159.1" r="3.3" fill="#23221e"/><circle cx="846.9" cy="1159.1" r="1.3" fill="#fff"/><circle cx="783.7" cy="1173.9" r="11.8" fill="#d3d8dc" stroke="#8fa0b4" stroke-width="0.8"/><circle cx="783.7" cy="1173.9" r="8" fill="none" stroke="#c2cad2" stroke-width="2"/><circle cx="783.7" cy="1173.9" r="4.7" fill="#23221e"/><circle cx="868" cy="1173.9" r="11.8" fill="#d3d8dc" stroke="#8fa0b4" stroke-width="0.8"/><circle cx="868" cy="1173.9" r="8" fill="none" stroke="#c2cad2" stroke-width="2"/><circle cx="868" cy="1173.9" r="4.7" fill="#23221e"/></g>
<g><path d="M640.57,1255.89L650.67,1247.49A9.91,9.91 0 0 1 657.01,1245.20A11.69,11.69 0 0 1 666.93,1250.70A11.69,11.69 0 0 1 676.85,1245.20A11.69,11.69 0 0 1 686.76,1250.70A11.69,11.69 0 0 1 696.67,1245.20A9.91,9.91 0 0 1 706.59,1255.11V1302.40H646.91Z" fill="#8c8c8c"/><polygon points="695.49,1278.60 706.59,1272.60 706.59,1302.40 695.49,1302.40" fill="#23221e"/><polygon points="623.7,1288.6 627.7,1285.3999999999999 722.7,1285.3999999999999 717.7,1288.6" fill="#9aa6b3"/><rect x="623.7" y="1288.6" width="94" height="5.3" fill="#7c8a9a"/><polygon points="717.7,1288.6 722.7,1285.3999999999999 722.7,1289.6 717.7,1293.8999999999999" fill="#dcdfe0"/><path d="M618.7,1293.6 Q622.2,1285.3999999999999 631.7,1285.3999999999999 H638.7 V1298.6 H623.7Z" fill="#7b8a9a"/><circle cx="626.9" cy="1300.1" r="10" fill="url(#bgv)"/><circle cx="626.9" cy="1300.1" r="2.5" fill="#fff"/><path d="M637.00,1310.20V1263.51A9.91,9.91 0 0 1 646.91,1253.60A10.38,10.38 0 0 1 656.83,1260.90A10.38,10.38 0 0 1 666.75,1253.60A10.38,10.38 0 0 1 676.66,1260.90A10.38,10.38 0 0 1 686.57,1253.60A9.91,9.91 0 0 1 696.49,1263.51V1310.20Z" fill="url(#stf)"/><line x1="656.83" y1="1261.40" x2="656.83" y2="1293.60" stroke="#aeb2b4" stroke-width="0.9"/><line x1="676.66" y1="1261.40" x2="676.66" y2="1293.60" stroke="#aeb2b4" stroke-width="0.9"/><circle cx="646.91" cy="1264.60" r="3.1" fill="#fff"/><circle cx="646.91" cy="1276.10" r="3.1" fill="#fff"/><circle cx="646.91" cy="1287.00" r="3.1" fill="#fff"/><circle cx="666.75" cy="1264.60" r="3.1" fill="#fff"/><circle cx="666.75" cy="1276.10" r="3.1" fill="#fff"/><circle cx="666.75" cy="1287.00" r="3.1" fill="#fff"/><circle cx="686.57" cy="1264.60" r="3.1" fill="#fff"/><circle cx="686.57" cy="1276.10" r="3.1" fill="#fff"/><circle cx="686.57" cy="1287.00" r="3.1" fill="#fff"/></g>
<g><polygon points="787,1287.3 811,1260.5 875.8,1260.5 850.3,1287.3" fill="#8593a3"/><polygon points="850.3,1287.3 875.8,1260.5 875.8,1281.1 850.3,1307.8999999999999" fill="#23221e"/><rect x="787" y="1287.30" width="63.3" height="5.2" fill="#dcdfe0"/><rect x="787" y="1292.50" width="63.3" height="1.67" fill="#a9aeab"/><rect x="787" y="1294.17" width="63.3" height="5.2" fill="#dcdfe0"/><rect x="787" y="1299.37" width="63.3" height="1.67" fill="#a9aeab"/><line x1="850.3" y1="1294.97" x2="875.8" y2="1268.97" stroke="#b9bdbd" stroke-width="1.3"/><rect x="787" y="1301.04" width="63.3" height="5.2" fill="#dcdfe0"/><rect x="787" y="1306.24" width="63.3" height="1.67" fill="#a9aeab"/><line x1="850.3" y1="1301.84" x2="875.8" y2="1275.84" stroke="#b9bdbd" stroke-width="1.3"/></g>
<g><rect x="796.3" y="1382.2" width="70" height="12.6" rx="3.5" fill="#59575a"/><rect x="788.3" y="1396.2" width="66" height="12.6" rx="3.5" fill="#8593a3"/><rect x="853.3" y="1396.2" width="21" height="12.6" rx="6.3" fill="#23221e"/><circle cx="860.4" cy="1388.5" r="5.5" fill="#23221e" stroke="#e4e6e6" stroke-width="0.9"/><circle cx="852.7" cy="1402.5" r="5.5" fill="#23221e" stroke="#e4e6e6" stroke-width="0.9"/><circle cx="868.4" cy="1402.5" r="5.5" fill="#23221e" stroke="#e4e6e6" stroke-width="0.9"/></g>
<g id="seamless"><path d="M315.74,1352.90L326.54,1344.40A9.80,9.80 0 0 1 332.60,1342.30A11.48,11.48 0 0 1 342.40,1347.80A11.48,11.48 0 0 1 352.20,1342.30A9.80,9.80 0 0 1 362.00,1352.10V1401.60H321.80Z" fill="#8c8c8c"/><polygon points="350.20,1374.50 362.00,1369.00 362.00,1401.60 350.20,1401.60" fill="#23221e"/><rect x="329.80" y="1374.50" width="2.40" height="27.10" fill="#23221e"/><path d="M299,1377.8H313V1395.8H299A9,9 0 0 1 299,1377.8Z" fill="url(#billet)"/><rect x="330" y="1383.2" width="187" height="7.3" fill="url(#orh2r)"/><circle cx="517" cy="1386.8" r="3.65" fill="#f7941d"/><path d="M312.00,1409.80V1360.00A9.20,9.20 0 0 1 330.40,1360.00V1409.80Z" fill="url(#stf)"/><path d="M331.60,1409.80V1360.00A9.20,9.20 0 0 1 350.00,1360.00V1409.80Z" fill="url(#stf)"/><circle cx="321.20" cy="1361.10" r="3.1" fill="#fff"/><circle cx="321.20" cy="1371.50" r="3.1" fill="#fff"/><circle cx="321.20" cy="1382.40" r="3.1" fill="#fff"/><circle cx="340.80" cy="1361.10" r="3.1" fill="#fff"/><circle cx="340.80" cy="1371.50" r="3.1" fill="#fff"/><circle cx="340.80" cy="1382.40" r="3.1" fill="#fff"/><rect x="385.1" y="1363.1" width="42.6" height="5.8" fill="#8c8c8c"/><rect x="385.1" y="1403.2" width="42.6" height="5.8" fill="#8c8c8c"/><circle cx="393.1" cy="1379.6" r="3.6" fill="#23221e"/><circle cx="393.1" cy="1379.6" r="1.2" fill="#fff"/><circle cx="393.1" cy="1394.1" r="3.6" fill="#23221e"/><circle cx="393.1" cy="1394.1" r="1.2" fill="#fff"/><circle cx="400.5" cy="1379.6" r="3.6" fill="#23221e"/><circle cx="400.5" cy="1379.6" r="1.2" fill="#fff"/><circle cx="400.5" cy="1394.1" r="3.6" fill="#23221e"/><circle cx="400.5" cy="1394.1" r="1.2" fill="#fff"/><circle cx="412.8" cy="1379.6" r="3.6" fill="#23221e"/><circle cx="412.8" cy="1379.6" r="1.2" fill="#fff"/><circle cx="412.8" cy="1394.1" r="3.6" fill="#23221e"/><circle cx="412.8" cy="1394.1" r="1.2" fill="#fff"/><circle cx="420.1" cy="1379.6" r="3.6" fill="#23221e"/><circle cx="420.1" cy="1379.6" r="1.2" fill="#fff"/><circle cx="420.1" cy="1394.1" r="3.6" fill="#23221e"/><circle cx="420.1" cy="1394.1" r="1.2" fill="#fff"/><rect x="451.3" y="1372" width="23" height="33" rx="8" fill="#8c8c8c"/><circle cx="464.40000000000003" cy="1373.5" r="9.6" fill="#8c8c8c"/><circle cx="464.40000000000003" cy="1399" r="9.6" fill="#8c8c8c"/><circle cx="460.90000000000003" cy="1376.4" r="9.6" fill="#8c8c8c"/><circle cx="460.90000000000003" cy="1401.3" r="9.6" fill="#8c8c8c"/><circle cx="460.90000000000003" cy="1376.4" r="8" fill="#23221e"/><circle cx="460.90000000000003" cy="1401.3" r="8" fill="#23221e"/><circle cx="462.1" cy="1375" r="2.7" fill="#c9c9c9"/><circle cx="462.1" cy="1403" r="2.5" fill="#c9c9c9"/><rect x="459.1" y="1375" width="3" height="9" fill="#6d6d6d"/><rect x="459.1" y="1393" width="3" height="10" fill="#6d6d6d"/><rect x="481.7" y="1372" width="23" height="33" rx="8" fill="#8c8c8c"/><circle cx="494.8" cy="1373.5" r="9.6" fill="#8c8c8c"/><circle cx="494.8" cy="1399" r="9.6" fill="#8c8c8c"/><circle cx="491.3" cy="1376.4" r="9.6" fill="#8c8c8c"/><circle cx="491.3" cy="1401.3" r="9.6" fill="#8c8c8c"/><circle cx="491.3" cy="1376.4" r="8" fill="#23221e"/><circle cx="491.3" cy="1401.3" r="8" fill="#23221e"/><circle cx="492.5" cy="1375" r="2.7" fill="#c9c9c9"/><circle cx="492.5" cy="1403" r="2.5" fill="#c9c9c9"/><rect x="489.5" y="1375" width="3" height="9" fill="#6d6d6d"/><rect x="489.5" y="1393" width="3" height="10" fill="#6d6d6d"/><rect x="466" y="1383.2" width="51" height="7.3" fill="#f7941d"/><rect x="452.90000000000003" y="1382" width="16.5" height="10.5" rx="1.5" fill="#8c8c8c"/><ellipse cx="461.1" cy="1382.3" rx="8.2" ry="1.6" fill="#6d6d6d"/><rect x="483.3" y="1382" width="16.5" height="10.5" rx="1.5" fill="#8c8c8c"/><ellipse cx="491.5" cy="1382.3" rx="8.2" ry="1.6" fill="#6d6d6d"/></g>
<g id="shapes"><path d="M310.32,1525.84L321.12,1518.04A9.70,9.70 0 0 1 336.50,1525.90V1572.70H316.00Z" fill="#8c8c8c"/><polygon points="324.70,1550.40 336.50,1542.70 336.50,1572.70 324.70,1572.70" fill="#23221e"/><polygon points="282.3,1558.2 287.6,1552.4 306.3,1552.4 306.3,1558.2" fill="#ef6a1e"/><rect x="282.3" y="1558.2" width="24" height="10.6" fill="url(#orh)"/><polygon points="325,1556.2 356.6,1556.2 350.5,1560 325,1560" fill="#f58a1e"/><rect x="325" y="1560" width="25.5" height="4" fill="url(#orh2)"/><polygon points="350.5,1560 356.6,1556.2 356.6,1559.5 350.5,1564" fill="#e83a1a"/><path d="M306.30,1580.40V1533.70A9.70,9.70 0 0 1 325.70,1533.70V1580.40Z" fill="url(#stf)"/><circle cx="316.00" cy="1535.00" r="3.1" fill="#fff"/><circle cx="316.00" cy="1546.00" r="3.1" fill="#fff"/><circle cx="316.00" cy="1557.20" r="3.1" fill="#fff"/><path d="M363.62,1529.63L373.72,1521.93A8.94,8.94 0 0 1 379.14,1520.10A10.02,10.02 0 0 1 388.08,1525.60A10.02,10.02 0 0 1 397.02,1520.10A10.02,10.02 0 0 1 405.96,1525.60A10.02,10.02 0 0 1 414.90,1520.10A10.02,10.02 0 0 1 423.84,1525.60A10.02,10.02 0 0 1 432.78,1520.10A8.94,8.94 0 0 1 441.72,1529.04V1571.70H369.04Z" fill="#8c8c8c"/><polygon points="430.62,1551.40 441.72,1544.60 441.72,1571.70 430.62,1571.70" fill="#23221e"/><path d="M360.10,1579.50V1536.74A8.94,8.94 0 0 1 369.04,1527.80A9.12,9.12 0 0 1 377.98,1535.10A9.12,9.12 0 0 1 386.92,1527.80A9.12,9.12 0 0 1 395.86,1535.10A9.12,9.12 0 0 1 404.80,1527.80A9.12,9.12 0 0 1 413.74,1535.10A9.12,9.12 0 0 1 422.68,1527.80A8.94,8.94 0 0 1 431.62,1536.74V1579.50Z" fill="url(#stf)"/><line x1="377.98" y1="1535.60" x2="377.98" y2="1550.40" stroke="#aeb2b4" stroke-width="0.9"/><line x1="395.86" y1="1535.60" x2="395.86" y2="1550.40" stroke="#aeb2b4" stroke-width="0.9"/><line x1="413.74" y1="1535.60" x2="413.74" y2="1550.40" stroke="#aeb2b4" stroke-width="0.9"/><circle cx="369.04" cy="1537.90" r="3" fill="#fff"/><circle cx="369.04" cy="1547.90" r="3" fill="#fff"/><circle cx="369.04" cy="1557.60" r="3" fill="#fff"/><circle cx="386.92" cy="1537.90" r="3" fill="#fff"/><circle cx="386.92" cy="1547.90" r="3" fill="#fff"/><circle cx="386.92" cy="1557.60" r="3" fill="#fff"/><circle cx="404.80" cy="1537.90" r="3" fill="#fff"/><circle cx="404.80" cy="1547.90" r="3" fill="#fff"/><circle cx="404.80" cy="1557.60" r="3" fill="#fff"/><circle cx="422.68" cy="1537.90" r="3" fill="#fff"/><circle cx="422.68" cy="1547.90" r="3" fill="#fff"/><circle cx="422.68" cy="1557.60" r="3" fill="#fff"/><rect x="452.4" y="1541.3" width="72.1" height="19.9" fill="url(#orr)"/><circle cx="488.8" cy="1532.3" r="12" fill="#8c8c8c"/><circle cx="488.8" cy="1570" r="12" fill="#8c8c8c"/><circle cx="480.8" cy="1538.3" r="12" fill="#8c8c8c"/><circle cx="480.8" cy="1538.3" r="11" fill="#23221e"/><circle cx="480.8" cy="1576.1" r="12" fill="#8c8c8c"/><circle cx="480.8" cy="1576.1" r="11" fill="#23221e"/><circle cx="482" cy="1540" r="3.4" fill="#c9c9c9"/><rect x="477.5" y="1540" width="4" height="12" fill="#6d6d6d"/><circle cx="482.5" cy="1575" r="2.8" fill="#c9c9c9"/><polygon points="445.2,1547.3 517.6,1547.3 517.6,1567.5 445.2,1567.5" fill="url(#orr)"/><polygon points="517.6,1547.3 524.5,1541.3 524.5,1561.2 517.6,1567.5" fill="#e4301a"/><polyline points="517.6,1547.3 517.6,1567.5" stroke="#f7941d" stroke-width="1.2"/><polyline points="517.6,1557 524.5,1551" stroke="#f7941d" stroke-width="1.5"/><polyline points="445.2,1547.3 517.6,1547.3 524.5,1541.3" fill="none" stroke="#f58a1e" stroke-width="1"/><rect x="468.3" y="1553" width="20.6" height="16.7" fill="#8c8c8c"/><ellipse cx="478.6" cy="1553.5" rx="10.3" ry="2.8" fill="#23221e"/><ellipse cx="478.6" cy="1553.5" rx="5.5" ry="1.8" fill="#8c8c8c"/></g>
<g><rect x="690.3000000000001" y="1508.9" width="86.4" height="22.4" fill="#23221e"/><rect x="690.3000000000001" y="1508.9" width="86.4" height="0.9" fill="#9aa6b2"/><rect x="683.2" y="1515.2" width="86.4" height="22.4" fill="#8593a3"/><rect x="769.6" y="1515.2" width="2.7" height="22.4" fill="#dcdfe0"/><rect x="774.5" y="1508.9" width="2.2" height="22.4" fill="#dcdfe0"/><polygon points="772.3000000000001,1525.0 774.5,1523.0 774.5,1527.0 772.3000000000001,1529.0" fill="#dcdfe0"/></g>
<g><rect x="802.1" y="1508.9" width="86.4" height="16.799999999999997" fill="#23221e"/><rect x="802.1" y="1508.9" width="86.4" height="0.9" fill="#9aa6b2"/><rect x="795" y="1515.2" width="86.4" height="22.4" fill="#8593a3"/><rect x="881.4" y="1515.2" width="2.6" height="22.4" fill="#dcdfe0"/><rect x="886.8" y="1508.9" width="2.3" height="16.799999999999997" fill="#dcdfe0"/><polygon points="881.4,1537.6000000000001 889.1,1531.6000000000001 889.1,1534.0000000000002 883.4,1537.9" fill="#dcdfe0"/></g>
<g><rect x="795" y="1586.4" width="86.4" height="22.4" fill="#8593a3"/><rect x="881.4" y="1586.4" width="2.7" height="22.4" fill="#dcdfe0"/><polygon points="884.1,1599.4 889.0,1596.4 889.0,1602.4 884.1,1604.9" fill="#23221e"/><polygon points="881.4,1608.8000000000002 889.0,1602.4 889.0,1605.0 883.1999999999999,1609.0000000000002" fill="#dcdfe0"/></g>
<g><polygon points="685,1589.5 694,1581.1 773.6,1581.1 764,1589.5" fill="#a6b1bc"/><polygon points="683.7,1589.5 764,1589.5 764,1607.5 681.8,1607.5" fill="#8593a3"/><polygon points="680,1607.5 764,1607.5 759,1612.7 680,1612.7" fill="#9aa6b2"/><polygon points="764,1589.5 773.6,1581.1 775.2,1582.5 775.2,1601 772.4,1601 772.4,1588 766,1592.5 764,1607.5 759,1612.7 762,1604" fill="#dcdfe0"/><polygon points="766.5,1592 772.4,1588 772.4,1600.5 765,1600.5" fill="#23221e"/><polygon points="775,1593 777,1593 777,1597 775,1598" fill="#8593a3"/></g>
<g id="barroll"><path d="M315.76,1688.16L326.66,1679.66A9.25,9.25 0 0 1 341.60,1686.95V1737.80H321.45Z" fill="#8c8c8c"/><polygon points="329.70,1710.20 341.60,1704.00 341.60,1737.80 329.70,1737.80" fill="#23221e"/><path d="M364.99,1688.33L375.79,1679.83A9.93,9.93 0 0 1 381.93,1677.70A11.71,11.71 0 0 1 391.85,1683.20A11.71,11.71 0 0 1 401.78,1677.70A9.93,9.93 0 0 1 411.70,1687.62V1737.80H371.12Z" fill="#8c8c8c"/><polygon points="399.90,1710.20 411.70,1704.00 411.70,1737.80 399.90,1737.80" fill="#23221e"/><rect x="379.35" y="1710.20" width="2.30" height="27.60" fill="#23221e"/><path d="M299,1713.3H313V1731.6H299A9.15,9.15 0 0 1 299,1713.3Z" fill="url(#billet)"/><rect x="312" y="1718.3" width="205" height="7.4" fill="url(#orh2r)"/><circle cx="516.5" cy="1722" r="4" fill="#f7941d"/><path d="M312.20,1745.00V1695.45A9.25,9.25 0 0 1 330.70,1695.45V1745.00Z" fill="url(#stf)"/><circle cx="321.45" cy="1696.60" r="3" fill="#fff"/><circle cx="321.45" cy="1707.10" r="3" fill="#fff"/><circle cx="321.45" cy="1718.00" r="3" fill="#fff"/><path d="M361.20,1745.00V1695.58A9.38,9.38 0 0 1 379.95,1695.58V1745.00Z" fill="url(#stf)"/><path d="M381.05,1745.00V1695.58A9.38,9.38 0 0 1 399.80,1695.58V1745.00Z" fill="url(#stf)"/><circle cx="370.57" cy="1696.60" r="3" fill="#fff"/><circle cx="370.57" cy="1707.10" r="3" fill="#fff"/><circle cx="370.57" cy="1718.00" r="3" fill="#fff"/><circle cx="390.43" cy="1696.60" r="3" fill="#fff"/><circle cx="390.43" cy="1707.10" r="3" fill="#fff"/><circle cx="390.43" cy="1718.00" r="3" fill="#fff"/><rect x="428" y="1698" width="68" height="6.7" fill="#8c8c8c"/><rect x="428" y="1739" width="68" height="5.5" fill="#8c8c8c"/><rect x="439.5" y="1711" width="11" height="23" fill="#8c8c8c"/><ellipse cx="445" cy="1711" rx="5.5" ry="1.8" fill="#23221e"/><ellipse cx="445" cy="1711" rx="2.8" ry="0.9" fill="#fff"/><rect x="461.5" y="1711" width="11" height="23" fill="#8c8c8c"/><ellipse cx="467" cy="1711" rx="5.5" ry="1.8" fill="#23221e"/><ellipse cx="467" cy="1711" rx="2.8" ry="0.9" fill="#fff"/><rect x="483.5" y="1711" width="11" height="23" fill="#8c8c8c"/><ellipse cx="489" cy="1711" rx="5.5" ry="1.8" fill="#23221e"/><ellipse cx="489" cy="1711" rx="2.8" ry="0.9" fill="#fff"/><rect x="428" y="1718.3" width="89" height="7.4" fill="url(#orh2r)"/><circle cx="433" cy="1712.4" r="5.8" fill="#23221e"/><circle cx="433" cy="1712.4" r="1.8" fill="#fff"/><circle cx="433" cy="1731.3" r="5.8" fill="#23221e"/><circle cx="433" cy="1731.3" r="1.8" fill="#fff"/><circle cx="456.2" cy="1712.4" r="5.8" fill="#23221e"/><circle cx="456.2" cy="1712.4" r="1.8" fill="#fff"/><circle cx="456.2" cy="1731.3" r="5.8" fill="#23221e"/><circle cx="456.2" cy="1731.3" r="1.8" fill="#fff"/><circle cx="478" cy="1712.4" r="5.8" fill="#23221e"/><circle cx="478" cy="1712.4" r="1.8" fill="#fff"/><circle cx="478" cy="1731.3" r="5.8" fill="#23221e"/><circle cx="478" cy="1731.3" r="1.8" fill="#fff"/></g>
<g><rect x="786.4" y="1716.2" width="92" height="10.4" rx="2.5" fill="#7f8d9c"/><rect x="788" y="1716.2" width="88" height="2" fill="#6f7d8d"/><rect x="781.1" y="1726.6" width="97" height="9.5" fill="#9aa6b2"/><rect x="783.3" y="1736.1" width="95" height="7.7" rx="2" fill="#7f8d9c"/><path d="M797,1716.2 Q788,1730 797,1743.8 H803.5 Q795.5,1730 803.5,1716.2Z" fill="#f0d68a"/><path d="M860,1716.2 Q851,1730 860,1743.8 H866.5 Q858.5,1730 866.5,1716.2Z" fill="#f0d68a"/><path d="M798,1718 Q791,1730 798,1742" fill="none" stroke="#e4c572" stroke-width="0.6"/><path d="M861,1718 Q854,1730 861,1742" fill="none" stroke="#e4c572" stroke-width="0.6"/><ellipse cx="877" cy="1730" rx="4.5" ry="13.5" fill="#b9c2c9"/><circle cx="877" cy="1722.5" r="3.8" fill="#dfe3e6"/><circle cx="880" cy="1730" r="3.8" fill="#d3d9dd"/><circle cx="877" cy="1737.5" r="3.8" fill="#dfe3e6"/><circle cx="874.5" cy="1730" r="3.5" fill="#c6cdd3"/></g>
<g id="wireroll"><path d="M311.14,1859.67L322.14,1851.07A10.25,10.25 0 0 1 338.70,1859.15V1907.10H317.45Z" fill="#8c8c8c"/><polygon points="326.70,1883.70 338.70,1876.80 338.70,1907.10 326.70,1907.10" fill="#23221e"/><polygon points="282.2,1886.2 287,1882 307.2,1882 307.2,1886.2" fill="#ef6a1e"/><rect x="282.2" y="1886.2" width="25" height="11.2" fill="url(#orh)"/><rect x="327" y="1887.1" width="25" height="5.1" fill="url(#orh2r)"/><path d="M307.20,1916.70V1867.75A10.25,10.25 0 0 1 327.70,1867.75V1916.70Z" fill="url(#stf)"/><circle cx="317.45" cy="1868.80" r="3.1" fill="#fff"/><circle cx="317.45" cy="1880.20" r="3.1" fill="#fff"/><circle cx="317.45" cy="1891.70" r="3.1" fill="#fff"/><polygon points="415.4,1862.3 425.7,1856 425.7,1900 415.4,1906" fill="#23221e"/><rect x="415" y="1884.9" width="30" height="2.2" fill="#f7941d"/><rect x="351.2" y="1866" width="23" height="45" fill="#8593a3"/><path d="M351.2,1866 H369.5 V1912 A9.15,3.5 0 0 1 351.2,1912Z" fill="url(#stf)"/><ellipse cx="365.8" cy="1864.2" rx="15.6" ry="6.6" transform="rotate(-29 365.8 1864.2)" fill="#8c8c8c"/><rect x="374.2" y="1866" width="23" height="45" fill="#8593a3"/><path d="M374.2,1866 H392.5 V1912 A9.15,3.5 0 0 1 374.2,1912Z" fill="url(#stf)"/><ellipse cx="388.8" cy="1864.2" rx="15.6" ry="6.6" transform="rotate(-29 388.8 1864.2)" fill="#8c8c8c"/><rect x="397.2" y="1866" width="23" height="45" fill="#8593a3"/><path d="M397.2,1866 H415.5 V1912 A9.15,3.5 0 0 1 397.2,1912Z" fill="url(#stf)"/><ellipse cx="411.8" cy="1864.2" rx="15.6" ry="6.6" transform="rotate(-29 411.8 1864.2)" fill="#8c8c8c"/><rect x="443" y="1860.1" width="12.7" height="56.7" fill="#8593a3"/><rect x="455.7" y="1868" width="2.8" height="36.6" fill="#dcdfe0"/><rect x="457.1" y="1878.8" width="3.2" height="15" fill="#23221e"/><path d="M461,1916.8V1860.1H482A3,3 0 0 1 485,1863.1V1875.9H471.8V1908.9H527.1V1916.8Z" fill="#8593a3"/><rect x="471.8" y="1875.9" width="10" height="33" fill="#dcdfe0"/><rect x="481.8" y="1875.9" width="1.3" height="33" fill="#23221e"/><path d="M483,1876A26,32 0 0 1 509,1906H483Z" fill="#f7a136"/><path d="M483.0,1880A22,28 0 0 1 503,1906" fill="none" stroke="#fff" stroke-width="0.7" stroke-dasharray="1.6 1.2"/><path d="M483.5,1884A19,24 0 0 1 501,1906" fill="none" stroke="#fff" stroke-width="0.7" stroke-dasharray="1.6 1.2"/><path d="M484.0,1888A16,20 0 0 1 499,1906" fill="none" stroke="#fff" stroke-width="0.7" stroke-dasharray="1.6 1.2"/><path d="M484.5,1892A13,16 0 0 1 497,1906" fill="none" stroke="#fff" stroke-width="0.7" stroke-dasharray="1.6 1.2"/><path d="M485.0,1896A10,12 0 0 1 495,1906" fill="none" stroke="#fff" stroke-width="0.7" stroke-dasharray="1.6 1.2"/><path d="M485.5,1900A7,8 0 0 1 493,1906" fill="none" stroke="#fff" stroke-width="0.7" stroke-dasharray="1.6 1.2"/><ellipse cx="513" cy="1902" rx="12" ry="4.8" fill="none" stroke="#f7a136" stroke-width="1.4"/><ellipse cx="506" cy="1902" rx="11" ry="4.5" fill="none" stroke="#f7a136" stroke-width="1.2"/><line x1="483" y1="1908" x2="527" y2="1908" stroke="#23221e" stroke-width="2" stroke-dasharray="1.6 1.6"/></g>
<g><path d="M789.9,1858 V1903 A41.5,8.6 0 0 0 872.8,1903 V1858Z" fill="#23221e"/><path d="M790.2,1863.5 A41.3,8.6 0 0 0 872.5,1863.5" fill="none" stroke="#8593a3" stroke-width="2"/><path d="M790.2,1867.8 A41.3,8.6 0 0 0 872.5,1867.8" fill="none" stroke="#8593a3" stroke-width="2"/><path d="M790.2,1872.2 A41.3,8.6 0 0 0 872.5,1872.2" fill="none" stroke="#8593a3" stroke-width="2"/><path d="M790.2,1876.5 A41.3,8.6 0 0 0 872.5,1876.5" fill="none" stroke="#8593a3" stroke-width="2"/><path d="M790.2,1880.9 A41.3,8.6 0 0 0 872.5,1880.9" fill="none" stroke="#8593a3" stroke-width="2"/><path d="M790.2,1885.2 A41.3,8.6 0 0 0 872.5,1885.2" fill="none" stroke="#8593a3" stroke-width="2"/><path d="M790.2,1889.6 A41.3,8.6 0 0 0 872.5,1889.6" fill="none" stroke="#8593a3" stroke-width="2"/><path d="M790.2,1894.0 A41.3,8.6 0 0 0 872.5,1894.0" fill="none" stroke="#8593a3" stroke-width="2"/><path d="M790.2,1898.3 A41.3,8.6 0 0 0 872.5,1898.3" fill="none" stroke="#8593a3" stroke-width="2"/><path d="M790.2,1902.7 A41.3,8.6 0 0 0 872.5,1902.7" fill="none" stroke="#8593a3" stroke-width="2"/><path d="M800,1884.5 A32,6.5 0 0 0 863,1884.5" fill="none" stroke="#fff" stroke-width="0.9" stroke-dasharray="6 4"/><path d="M800,1888.8 A32,6.5 0 0 0 863,1888.8" fill="none" stroke="#fff" stroke-width="0.9" stroke-dasharray="6 4"/><path d="M800,1893.2 A32,6.5 0 0 0 863,1893.2" fill="none" stroke="#fff" stroke-width="0.9" stroke-dasharray="6 4"/><path d="M800,1897.5 A32,6.5 0 0 0 863,1897.5" fill="none" stroke="#fff" stroke-width="0.9" stroke-dasharray="6 4"/><ellipse cx="831.3" cy="1858" rx="41.5" ry="10.2" fill="#23221e"/><ellipse cx="831.4" cy="1856.6" rx="9.6" ry="2.5" fill="#fff"/></g>
</svg>
</body>
</html>
